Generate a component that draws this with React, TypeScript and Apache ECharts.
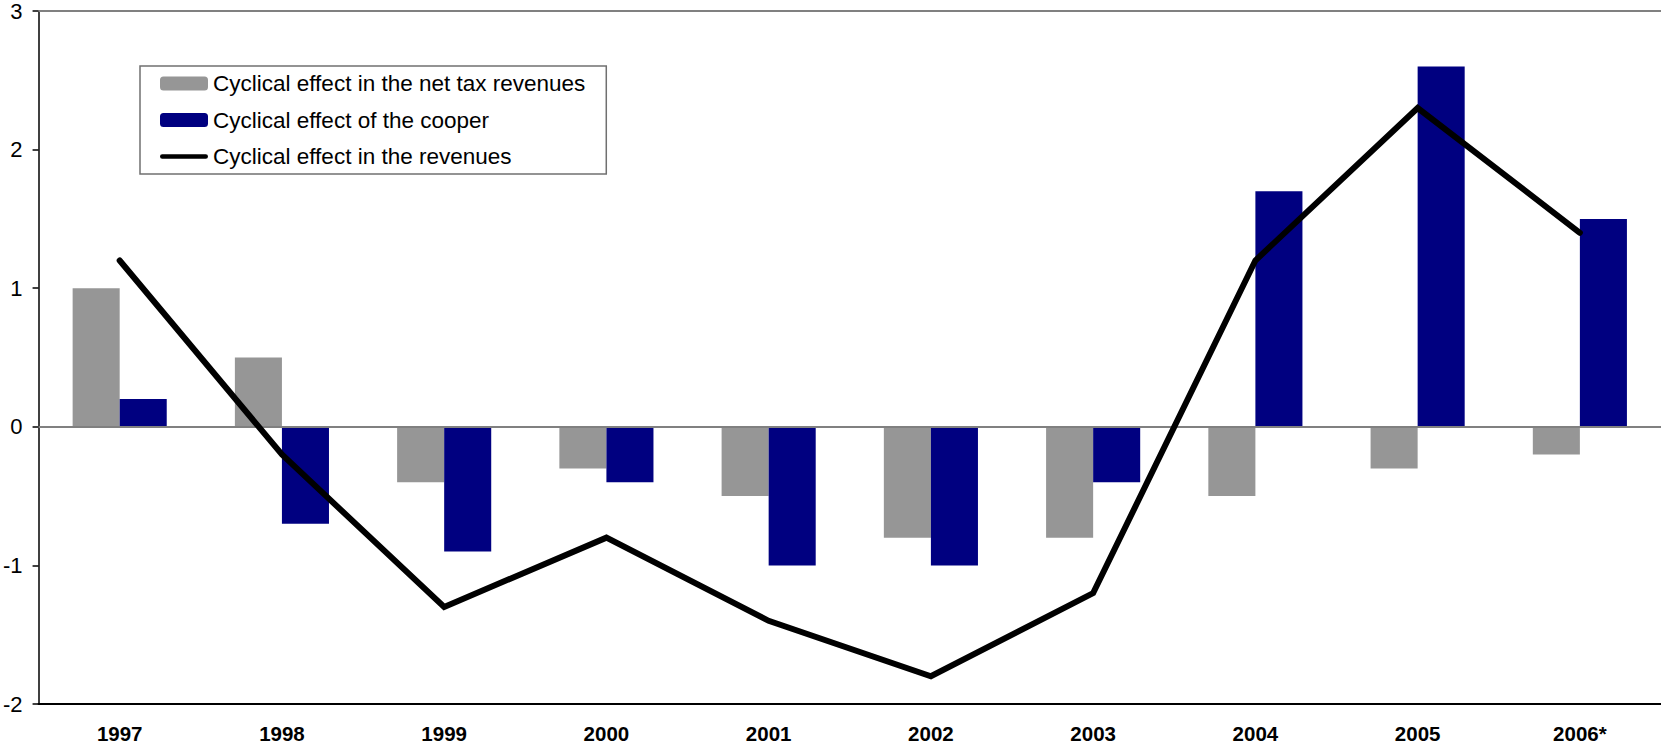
import React, { useEffect, useRef } from "react";
import * as echarts from "echarts";

const categories = ["1997", "1998", "1999", "2000", "2001", "2002", "2003", "2004", "2005", "2006*"];
const netTaxRevenues = [1.0, 0.5, -0.4, -0.3, -0.5, -0.8, -0.8, -0.5, -0.3, -0.2];
const cooperEffect = [0.2, -0.7, -0.9, -0.4, -1.0, -1.0, -0.4, 1.7, 2.6, 1.5];
const revenuesEffect = [1.2, -0.2, -1.3, -0.8, -1.4, -1.8, -1.2, 1.2, 2.3, 1.4];
const seriesNames = [
  "Cyclical effect in the net tax revenues",
  "Cyclical effect of the cooper",
  "Cyclical effect in the revenues",
];

const FONT = "'Liberation Sans', Arial, Helvetica, sans-serif";
const LINE_ICON =
  "path://M0,0 L0,0 Z M0,14 L0,14 Z M-2.5,4.25 L50.5,4.25 A2.75,2.75 0 0 1 50.5,9.75 L-2.5,9.75 A2.75,2.75 0 0 1 -2.5,4.25 Z";

export default function App() {
  const ref = useRef<HTMLDivElement>(null);
  useEffect(() => {
    document.body.style.margin = "0";
    if (!ref.current) return;
    const chart = echarts.init(ref.current, undefined, { renderer: "svg" });
    chart.setOption({
      animation: false,
      backgroundColor: "#ffffff",
      textStyle: { fontFamily: FONT },
      grid: { left: 37, right: 0, top: 11, bottom: 42, containLabel: false },
      legend: {
        left: 140,
        top: 66,
        orient: "vertical",
        itemWidth: 48,
        itemHeight: 14,
        itemGap: 13.5,
        padding: [6, 21, 6, 20],
        borderColor: "#707070",
        borderWidth: 1.5,
        selectedMode: false,
        textStyle: { fontSize: 22.5, fontFamily: FONT, color: "#000" },
        data: [
          { name: seriesNames[0] },
          { name: seriesNames[1] },
          { name: seriesNames[2], icon: LINE_ICON, itemStyle: { color: "#000" } },
        ],
      },
      xAxis: {
        type: "category",
        data: categories,
        axisLine: { onZero: false, lineStyle: { color: "#000", width: 2 } },
        axisTick: { show: false },
        axisLabel: { fontSize: 20.5, fontWeight: "bold", color: "#000", margin: 19, fontFamily: FONT },
        splitLine: { show: false },
      },
      yAxis: {
        type: "value",
        min: -2,
        max: 3,
        interval: 1,
        axisLine: { show: true, lineStyle: { color: "#000", width: 1.5 } },
        axisTick: { show: true, length: 6, lineStyle: { color: "#000", width: 1.5 } },
        axisLabel: { fontSize: 22, color: "#000", margin: 16, fontFamily: FONT },
        splitLine: { show: false },
      },
      series: [
        {
          name: seriesNames[0],
          type: "bar",
          data: netTaxRevenues,
          barGap: "0%",
          barCategoryGap: "42%",
          itemStyle: { color: "#969696" },
          markLine: {
            silent: true,
            symbol: ["none", "none"],
            label: { show: false },
            lineStyle: { color: "#808080", width: 2, type: "solid" },
            data: [{ yAxis: 0 }, { yAxis: 3 }],
          },
        },
        {
          name: seriesNames[1],
          type: "bar",
          data: cooperEffect,
          barGap: "0%",
          barCategoryGap: "42%",
          itemStyle: { color: "#000080" },
        },
        {
          name: seriesNames[2],
          type: "line",
          data: revenuesEffect,
          symbol: "none",
          z: 5,
          lineStyle: { color: "#000", width: 6, cap: "round", join: "miter" },
          itemStyle: { color: "#000" },
        },
      ],
    });
    return () => chart.dispose();
  }, []);
  return <div ref={ref} style={{ width: 1661, height: 746 }} />;
}
